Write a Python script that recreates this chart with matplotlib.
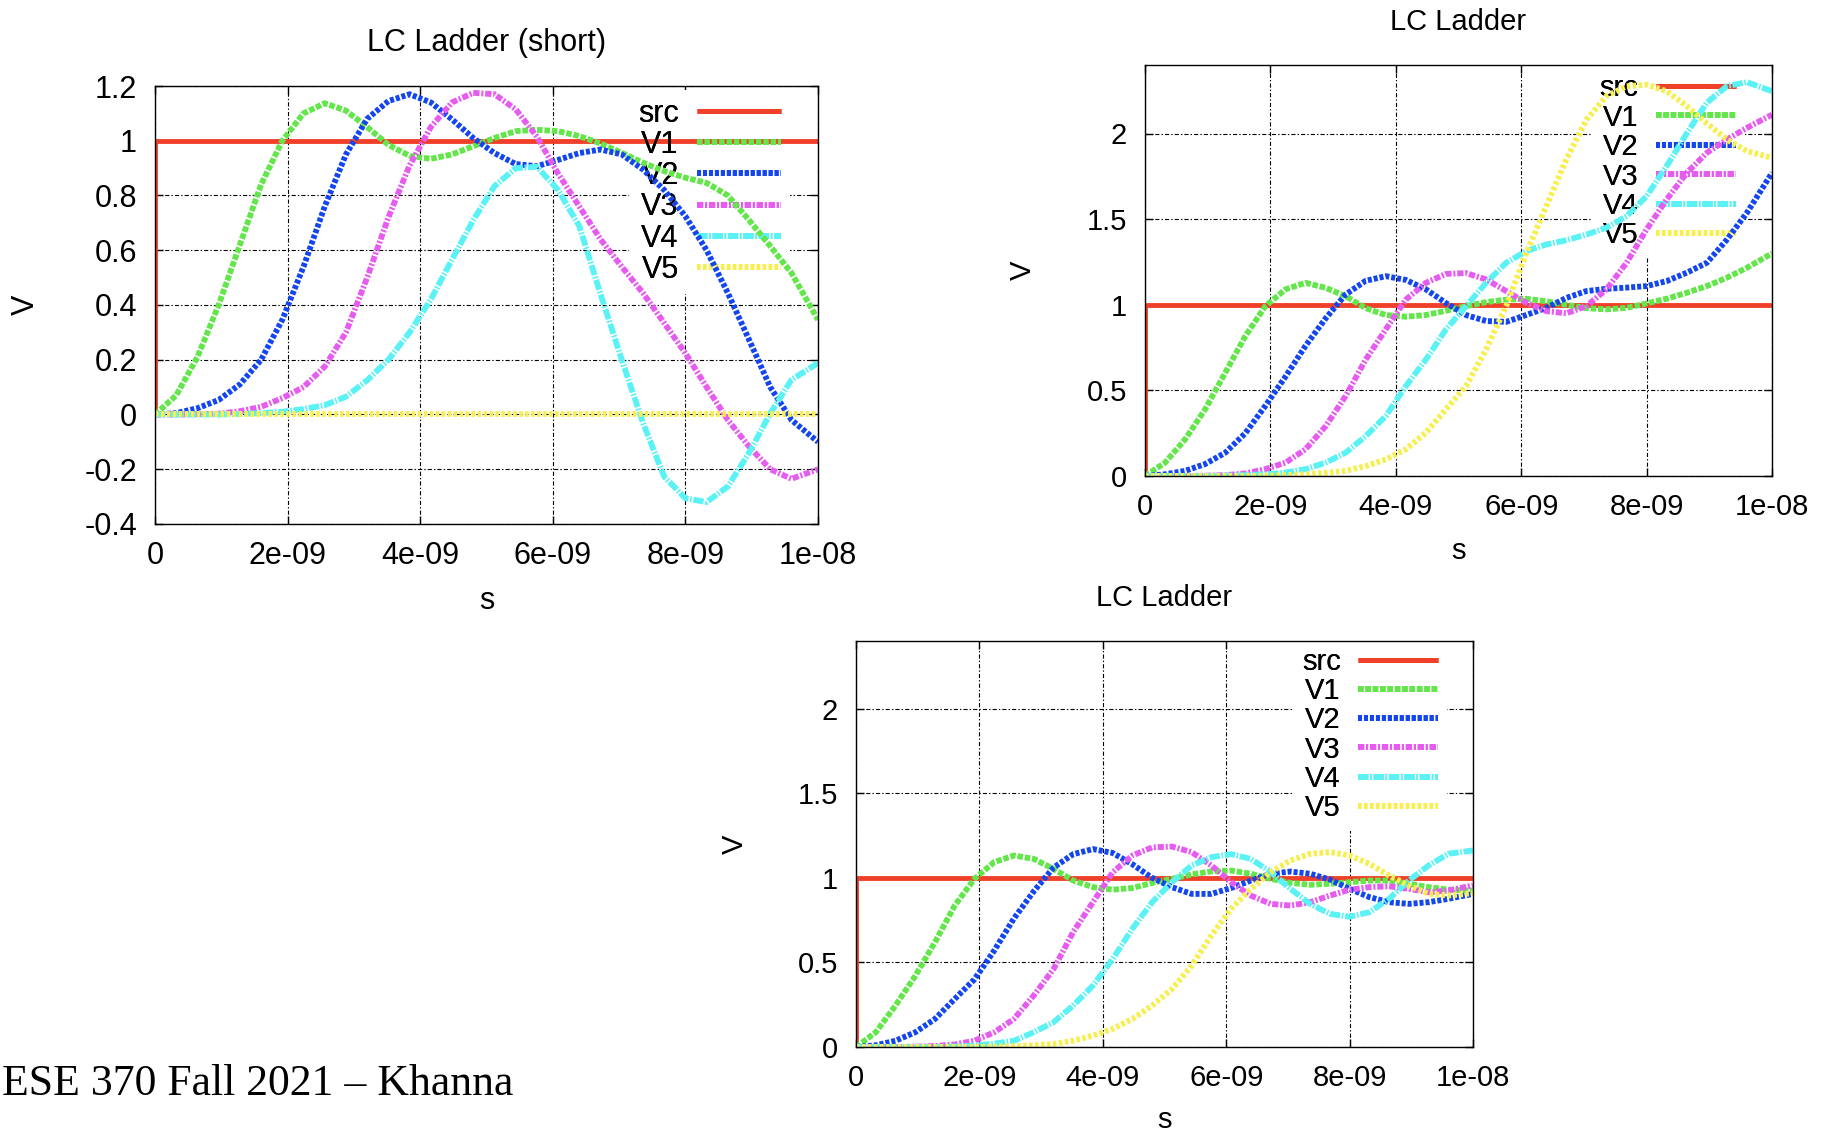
import numpy as np
import matplotlib
matplotlib.use("Agg")
import matplotlib.pyplot as plt

plt.rcParams['font.family'] = ['Liberation Sans', 'DejaVu Sans']
plt.rcParams['lines.scale_dashes'] = False

# sample times in ns (same grid for all three panels)
t_ns = [0, 0.32, 0.64, 0.96, 1.28, 1.6, 1.92, 2.24, 2.56, 2.88, 3.2, 3.52,
        3.84, 4.16, 4.48, 4.8, 5.12, 5.44, 5.76, 6.08, 6.4, 6.72, 7.04, 7.36,
        7.68, 8.0, 8.32, 8.64, 8.96, 9.28, 9.6, 10.0]

# source step
src_t = [0, 0, 10.0]
src_v = [0, 1, 1]

# --- LC Ladder (short) ---
short_v1 = [0, 0.07, 0.21, 0.40, 0.62, 0.84, 1.0, 1.10, 1.137, 1.11, 1.05, 0.985,
            0.945, 0.934, 0.95, 0.98, 1.01, 1.035, 1.04, 1.035, 1.017, 0.99, 0.956, 0.92,
            0.889, 0.865, 0.846, 0.80, 0.71, 0.615, 0.517, 0.346]
short_v2 = [0, 0.005, 0.023, 0.053, 0.11, 0.20, 0.346, 0.54, 0.76, 0.95, 1.08, 1.145,
            1.17, 1.14, 1.078, 1.01, 0.955, 0.915, 0.907, 0.93, 0.955, 0.968, 0.95, 0.895,
            0.82, 0.724, 0.60, 0.444, 0.273, 0.10, -0.02, -0.10]
short_v3 = [0, 0, 0.001, 0.003, 0.012, 0.028, 0.06, 0.10, 0.175, 0.30, 0.50, 0.72,
            0.91, 1.05, 1.14, 1.175, 1.17, 1.115, 1.015, 0.88, 0.76, 0.64, 0.54, 0.444,
            0.334, 0.224, 0.10, -0.02, -0.117, -0.20, -0.235, -0.20]
short_v4 = [0, 0, 0, 0, 0.002, 0.005, 0.01, 0.02, 0.034, 0.065, 0.125, 0.20,
            0.30, 0.42, 0.566, 0.71, 0.834, 0.90, 0.905, 0.82, 0.688, 0.44, 0.20, -0.03,
            -0.227, -0.306, -0.32, -0.263, -0.14, 0.004, 0.127, 0.188]
short_v5 = [0] * 32

# --- LC Ladder (top right) ---
open_v1 = [0, 0.078, 0.214, 0.39, 0.603, 0.817, 0.992, 1.09, 1.128, 1.099, 1.05, 0.98,
           0.94, 0.93, 0.94, 0.965, 0.992, 1.015, 1.03, 1.035, 1.02, 1.0, 0.98, 0.973,
           0.982, 1.008, 1.035, 1.07, 1.109, 1.158, 1.216, 1.30]
open_v2 = [0, 0.01, 0.03, 0.07, 0.136, 0.25, 0.41, 0.58, 0.76, 0.92, 1.06, 1.14,
           1.167, 1.145, 1.09, 1.01, 0.94, 0.905, 0.90, 0.94, 0.982, 1.04, 1.08, 1.093,
           1.10, 1.109, 1.138, 1.187, 1.245, 1.38, 1.537, 1.77]
open_v3 = [0, 0, 0, 0.002, 0.005, 0.015, 0.04, 0.078, 0.156, 0.29, 0.467, 0.68,
           0.856, 1.03, 1.128, 1.18, 1.185, 1.148, 1.08, 1.012, 0.963, 0.95, 0.992, 1.09,
           1.245, 1.44, 1.615, 1.77, 1.887, 1.965, 2.033, 2.11]
open_v4 = [0, 0, 0, 0, 0.002, 0.005, 0.01, 0.02, 0.04, 0.078, 0.136, 0.233,
           0.35, 0.525, 0.68, 0.856, 0.992, 1.128, 1.245, 1.313, 1.352, 1.377, 1.41, 1.45,
           1.517, 1.634, 1.81, 2.0, 2.18, 2.276, 2.30, 2.247]
open_v5 = [0, 0, 0, 0, 0, 0, 0.002, 0.005, 0.01, 0.018, 0.03, 0.058,
           0.097, 0.156, 0.253, 0.39, 0.525, 0.74, 0.992, 1.30, 1.576, 1.85, 2.08, 2.218,
           2.276, 2.285, 2.247, 2.16, 2.06, 1.965, 1.897, 1.858]

# --- LC Ladder (bottom) ---
term_v1 = [0, 0.087, 0.245, 0.42, 0.62, 0.836, 0.994, 1.093, 1.132, 1.112, 1.053, 0.984,
           0.945, 0.93, 0.94, 0.97, 0.994, 1.02, 1.038, 1.043, 1.024, 0.994, 0.97, 0.959,
           0.965, 0.974, 0.984, 0.984, 0.965, 0.945, 0.93, 0.925]
term_v2 = [0, 0.01, 0.037, 0.087, 0.166, 0.284, 0.40, 0.57, 0.76, 0.92, 1.06, 1.14,
           1.17, 1.147, 1.08, 1.0, 0.945, 0.905, 0.905, 0.94, 0.984, 1.024, 1.037, 1.024,
           0.99, 0.935, 0.886, 0.856, 0.846, 0.856, 0.876, 0.905]
term_v3 = [0, 0, 0, 0.002, 0.006, 0.015, 0.037, 0.087, 0.166, 0.304, 0.46, 0.68,
           0.856, 1.033, 1.132, 1.18, 1.185, 1.152, 1.073, 0.974, 0.895, 0.846, 0.836, 0.856,
           0.895, 0.93, 0.945, 0.95, 0.935, 0.915, 0.925, 0.955]
term_v4 = [0, 0, 0, 0, 0, 0.003, 0.008, 0.02, 0.037, 0.087, 0.146, 0.245,
           0.363, 0.52, 0.70, 0.856, 0.974, 1.073, 1.122, 1.14, 1.112, 1.034, 0.935, 0.846,
           0.787, 0.77, 0.797, 0.876, 0.984, 1.073, 1.142, 1.162]
term_v5 = [0, 0, 0, 0, 0, 0, 0, 0.002, 0.005, 0.01, 0.018, 0.037,
           0.067, 0.107, 0.166, 0.245, 0.343, 0.48, 0.659, 0.817, 0.935, 1.034, 1.103, 1.142,
           1.152, 1.132, 1.083, 1.014, 0.955, 0.905, 0.895, 0.91]

names = ['src', 'V1', 'V2', 'V3', 'V4', 'V5']
colors = ['#f0402a', '#62e64a', '#1446f0', '#e65cf0', '#5af2f5', '#f8ef4e']
# gnuplot-like dash patterns (points)
dashes = [None, (4.0, 1.3), (2.9, 1.4), (4.5, 1.3, 1.5, 1.3),
          (7.5, 1.2, 1.2, 1.2), (2.5, 1.8)]

xticks = [0, 2e-9, 4e-9, 6e-9, 8e-9, 1e-8]
xticklabels = ['0', '2e-09', '4e-09', '6e-09', '8e-09', '1e-08']

W, H = 1829, 1135
fig = plt.figure(figsize=(W / 100, H / 100), dpi=100)


def panel(rect_px, title, curves, ylim, yticks, yticklabels, fs,
          label_dx, label_dy, leg_x, leg_y, spacing):
    l, t, r, b = rect_px
    ax = fig.add_axes([l / W, 1 - b / H, (r - l) / W, (b - t) / H])
    aw, ah = r - l, b - t

    ax.plot(np.array(src_t) * 1e-9, src_v, color=colors[0], lw=3.5,
            label=names[0], solid_capstyle='butt', zorder=2)
    t_s = np.array(t_ns) * 1e-9
    for i, v in enumerate(curves, start=1):
        ln, = ax.plot(t_s, v, color=colors[i], lw=4.2, label=names[i],
                      zorder=2.2)
        ln.set_dashes(dashes[i])

    ax.set_xlim(0, 1e-8)
    ax.set_ylim(*ylim)
    ax.set_xticks(xticks)
    ax.set_xticklabels(xticklabels)
    ax.set_yticks(yticks)
    ax.set_yticklabels(yticklabels)
    ax.tick_params(direction='in', length=5.5, width=1, top=True, right=True,
                   labelsize=fs)
    ax.tick_params(axis='x', pad=12)
    ax.tick_params(axis='y', pad=13)
    ax.set_axisbelow(True)
    ax.grid(True, color='black', lw=0.8, ls=(0, (3, 1.5, 1, 1.5)))
    for s in ax.spines.values():
        s.set_linewidth(1.0)

    ax.set_title(title, fontsize=fs, pad=25)
    ax.set_xlabel('s', fontsize=fs)
    ax.xaxis.set_label_coords(0.5, -label_dy / ah)
    ax.xaxis.label.set_verticalalignment('baseline')
    ax.set_ylabel('V', fontsize=fs)
    ax.yaxis.set_label_coords(-label_dx / aw, 0.5)
    ax.yaxis.label.set_verticalalignment('center')
    ax.yaxis.label.set_horizontalalignment('center')

    # key: white box hides the grid, entries sit above src but below V curves
    leg_kw = dict(loc='upper right', bbox_to_anchor=(leg_x, leg_y),
                  markerfirst=False, fontsize=fs, fancybox=False,
                  handlelength=2.75, handletextpad=0.6, labelspacing=spacing,
                  borderpad=0.3, borderaxespad=0)
    bg = ax.legend(frameon=True, facecolor='white', edgecolor='none',
                   framealpha=1, **leg_kw)
    bg.set_zorder(1)
    ax.add_artist(bg)
    fg = ax.legend(frameon=False, **leg_kw)
    fg.set_zorder(2.05)
    return ax


panel((155, 86, 818, 524), 'LC Ladder (short)',
      [short_v1, short_v2, short_v3, short_v4, short_v5],
      (-0.4, 1.2), [-0.4, -0.2, 0, 0.2, 0.4, 0.6, 0.8, 1.0, 1.2],
      ['-0.4', '-0.2', '0', '0.2', '0.4', '0.6', '0.8', '1', '1.2'],
      22, 129, 85, 0.958, 0.992, 0.04)

panel((1145, 65, 1772, 476), 'LC Ladder',
      [open_v1, open_v2, open_v3, open_v4, open_v5],
      (0, 2.4), [0, 0.5, 1.0, 1.5, 2.0], ['0', '0.5', '1', '1.5', '2'],
      21, 122, 83, 0.957, 0.999, 0.05)

panel((856, 641, 1473, 1047), 'LC Ladder',
      [term_v1, term_v2, term_v3, term_v4, term_v5],
      (0, 2.4), [0, 0.5, 1.0, 1.5, 2.0], ['0', '0.5', '1', '1.5', '2'],
      21, 121, 81, 0.958, 1.004, 0.04)

fig.text(2 / W, 1 - 1095 / H, 'ESE 370 Fall 2021 \u2013 Khanna',
         family=['Liberation Serif', 'DejaVu Serif'], fontsize=31.5,
         ha='left', va='baseline')

fig.savefig('out.png', dpi=100)
